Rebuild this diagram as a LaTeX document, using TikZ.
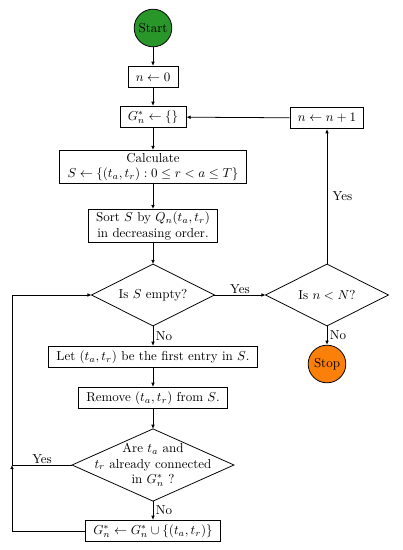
\documentclass[tikz,border=0pt]{standalone}
\usetikzlibrary{shapes.geometric,arrows.meta}
\definecolor{startgreen}{RGB}{40,150,40}
\definecolor{stoporange}{RGB}{250,128,10}
\begin{document}
\begin{tikzpicture}[x=0.77pt,y=-0.77pt,
  line width=0.6pt,
  arr/.style={-{Latex[length=3.2pt,width=2.8pt]}},
  proc/.style={draw,rectangle,inner xsep=6pt,inner ysep=2pt,minimum height=16.5pt,align=center},
  decide/.style={rectangle,inner sep=0pt,align=center},
  term/.style={draw,circle,inner sep=0pt,minimum size=29pt}]
\useasboundingbox (0,0) rectangle (402,550);
\node[term,fill=startgreen] (start) at (153,28) {Start};
\node[proc] (n0) at (153,77) {$n\leftarrow 0$};
\node[proc] (G) at (153,117) {$G_n^*\leftarrow\{\}$};
\node[proc] (inc) at (327,118) {$n\leftarrow n+1$};
\node[proc] (calc) at (153,167) {Calculate\\$S\leftarrow\{(t_a,t_r):0\le r<a\le T\}$};
\node[proc] (sort) at (153,226) {Sort $S$ by $Q_n(t_a,t_r)$\\in decreasing order.};
\node[decide,minimum width=94pt,minimum height=47pt] (d1) at (153,295) {Is $S$ empty?};
\node[decide,minimum width=94pt,minimum height=47pt] (d2) at (327,295) {Is $n<N$?};
\node[term,fill=stoporange] (stop) at (327,364) {Stop};
\node[proc] (let) at (153,357) {Let $(t_a,t_r)$ be the first entry in $S$.};
\node[proc] (rem) at (153,398) {Remove $(t_a,t_r)$ from $S$.};
\node[decide,minimum width=124pt,minimum height=55pt] (d3) at (153,465) {Are $t_a$ and\\$t_r$ already connected\\in $G_n^*$ ?};
\node[proc] (add) at (153,531) {$G_n^*\leftarrow G_n^*\cup\{(t_a,t_r)\}$};
\foreach \d in {d1,d2,d3}
  \draw (\d.north) -- (\d.east) -- (\d.south) -- (\d.west) -- cycle;
\coordinate (j) at (12,465);
\coordinate (top) at (12,295);
\draw[arr] (start) -- (n0);
\draw[arr] (n0) -- (G);
\draw[arr] (G) -- (calc);
\draw[arr] (calc) -- (sort);
\draw[arr] (sort) -- (d1);
\draw[arr] (d1) -- node[right,inner sep=2pt] {No} (let);
\draw[arr] (d1) -- node[above,inner sep=1pt] {Yes} (d2);
\draw[arr] (d2) -- node[right,inner sep=2pt] {No} (stop);
\draw[arr] (d2) -- node[right,inner sep=4pt] {Yes} (inc);
\draw[arr] (inc) -- (G);
\draw[arr] (let) -- (rem);
\draw[arr] (rem) -- (d3);
\draw[arr] (d3) -- node[right,inner sep=2pt] {No} (add);
\draw[arr] (add.west) -| (j);
\draw (d3.west) -- node[above,inner sep=1pt] {Yes} (j);
\draw[arr] (j) -- (top) -- (d1.west);
\end{tikzpicture}
\end{document}
